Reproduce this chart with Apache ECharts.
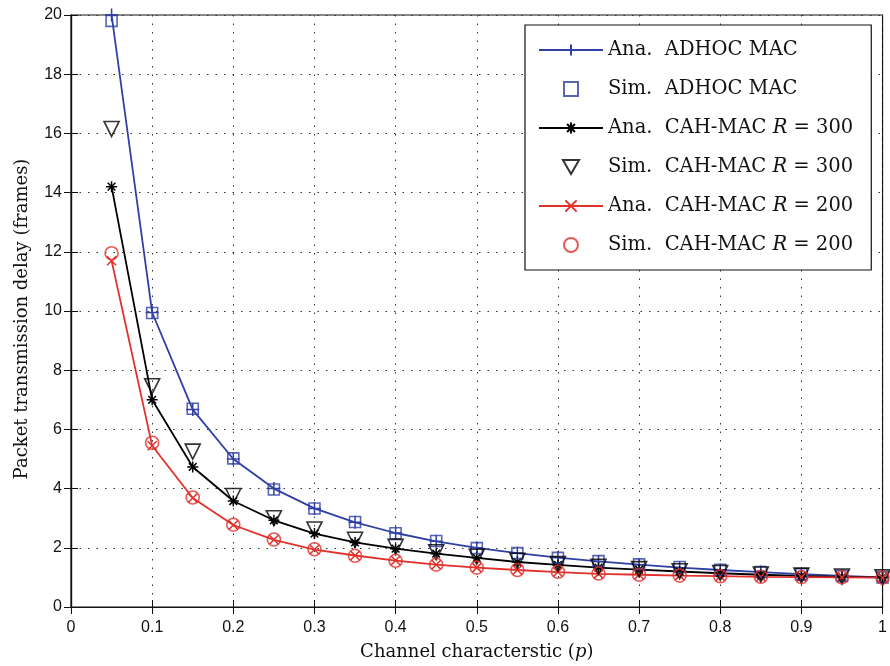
<!DOCTYPE html>
<html>
<head>
<meta charset="utf-8">
<script src="https://cdn.jsdelivr.net/npm/echarts@6/dist/echarts.min.js"></script>
<style>
  html, body { margin: 0; padding: 0; background: #fff; }
  #chart { width: 890px; height: 666px; }
</style>
</head>
<body>
<div id="chart"></div>
<script>
// Channel characteristic p
const pValues = [0.05, 0.1, 0.15, 0.2, 0.25, 0.3, 0.35, 0.4, 0.45, 0.5,
                 0.55, 0.6, 0.65, 0.7, 0.75, 0.8, 0.85, 0.9, 0.95, 1.0];

// Packet transmission delay (frames)
const anaAdhoc = [20.0, 9.95, 6.67, 5.0, 4.0, 3.33, 2.86, 2.5, 2.22, 2.0,
                  1.82, 1.67, 1.54, 1.43, 1.33, 1.25, 1.18, 1.11, 1.05, 1.0];
const simAdhoc = [19.8, 9.93, 6.7, 5.02, 3.97, 3.33, 2.87, 2.49, 2.23, 1.99,
                  1.82, 1.66, 1.55, 1.44, 1.35, 1.26, 1.18, 1.11, 1.05, 1.0];
const anaR300 = [14.2, 7.0, 4.73, 3.58, 2.93, 2.48, 2.18, 1.97, 1.8, 1.66,
                 1.52, 1.42, 1.33, 1.26, 1.2, 1.14, 1.09, 1.05, 1.02, 1.0];
const simR300 = [16.15, 7.46, 5.25, 3.75, 3.0, 2.62, 2.27, 2.03, 1.85, 1.7,
                 1.56, 1.45, 1.36, 1.28, 1.21, 1.15, 1.1, 1.06, 1.03, 1.0];
const anaR200 = [11.7, 5.45, 3.68, 2.77, 2.27, 1.94, 1.74, 1.57, 1.43, 1.33,
                 1.25, 1.18, 1.12, 1.09, 1.06, 1.04, 1.02, 1.01, 1.0, 0.99];
const simR200 = [11.95, 5.55, 3.7, 2.78, 2.28, 1.95, 1.73, 1.56, 1.43, 1.33,
                 1.25, 1.19, 1.13, 1.09, 1.06, 1.04, 1.02, 1.01, 1.0, 0.99];

const seriesNames = [
  'Ana.  ADHOC MAC',
  'Sim.  ADHOC MAC',
  'Ana.  CAH-MAC R = 300',
  'Sim.  CAH-MAC R = 300',
  'Ana.  CAH-MAC R = 200',
  'Sim.  CAH-MAC R = 200'
];

const xTicks = [0, 0.1, 0.2, 0.3, 0.4, 0.5, 0.6, 0.7, 0.8, 0.9, 1];
const yTicks = [0, 2, 4, 6, 8, 10, 12, 14, 16, 18, 20];

const BLUE = '#2f3fa3';
const RED = '#e2302a';
const BLACK = '#000000';

const SERIF = '"DejaVu Serif", "Liberation Serif", serif';
const SANS = '"Liberation Sans", Arial, sans-serif';

const PLUS = 'path://M5,0L5,10M0,5L10,5';
const STAR = 'path://M5,0L5,10M0,5L10,5M1.5,1.5L8.5,8.5M8.5,1.5L1.5,8.5';
const CROSS = 'path://M0,0L10,10M10,0L0,10';
const SQUARE = 'path://M0,0L10,0L10,10L0,10Z';
const TRI_DOWN = 'path://M0,0L10,0L5,8.66Z';

const pairs = ys => pValues.map((p, i) => [p, ys[i]]);

function anaSeries(name, ys, color, symbol, size) {
  return {
    name, type: 'line', data: pairs(ys), clip: false,
    symbol, symbolSize: size, showAllSymbol: true,
    lineStyle: { color, width: 1.8 },
    itemStyle: { color, borderColor: color, borderWidth: 1.5 },
    emphasis: { disabled: true }, z: 3
  };
}
function simSeries(name, ys, color, symbol, size) {
  return {
    name, type: 'scatter', data: pairs(ys), clip: false,
    symbol, symbolSize: size,
    itemStyle: { color: 'rgba(0,0,0,0)', borderColor: color, borderWidth: 1.6 },
    emphasis: { disabled: true }, z: 4
  };
}

const chart = echarts.init(document.getElementById('chart'), null, { renderer: 'canvas' });

const tickLabelStyle = { fontFamily: SANS, fontSize: 16, color: '#111' };
const titleFont = { fontFamily: SERIF, fontSize: 18, color: '#111' };
const legendFont = { fontFamily: SERIF, fontSize: 19.5, color: '#111' };

chart.setOption({
  animation: false,
  backgroundColor: '#fff',
  grid: { left: 71, right: 5, top: 15, bottom: 57, show: true,
          borderColor: '#111', borderWidth: 1.2, backgroundColor: 'transparent' },
  xAxis: [{
    type: 'value', min: 0, max: 1, interval: 0.1, position: 'bottom',
    name: 'Channel characterstic ({i|p})', nameLocation: 'middle', nameGap: 36,
    nameTextStyle: { ...titleFont, rich: { i: { ...titleFont, fontStyle: 'italic' } } },
    axisLine: { show: true, onZero: false, lineStyle: { color: '#111', width: 1.2 } },
    axisTick: { show: true, inside: true, length: 7, lineStyle: { color: '#111' } },
    axisLabel: { ...tickLabelStyle, margin: 13,
                 formatter: v => { const t = xTicks.find(x => Math.abs(x - v) < 1e-9); return t === undefined ? '' : String(t); } },
    splitLine: { show: true, lineStyle: { color: '#333', type: [1.5, 7], width: 1 } }
  }, {
    type: 'value', min: 0, max: 1, interval: 0.1, position: 'top',
    axisLine: { show: true, lineStyle: { color: '#111', width: 1.2 } },
    axisTick: { show: true, inside: true, length: 7, lineStyle: { color: '#111' } },
    axisLabel: { show: false }, splitLine: { show: false }
  }],
  yAxis: [{
    type: 'value', min: 0, max: 20, interval: 2, position: 'left',
    name: 'Packet transmission delay (frames)', nameLocation: 'middle', nameGap: 40,
    nameTextStyle: { ...titleFont, padding: [0, 16, 0, 0] },
    axisLine: { show: true, onZero: false, lineStyle: { color: '#111', width: 1.2 } },
    axisTick: { show: true, inside: true, length: 7, lineStyle: { color: '#111' } },
    axisLabel: { ...tickLabelStyle, margin: 9,
                 formatter: v => yTicks.includes(v) ? String(v) : '' },
    splitLine: { show: true, lineStyle: { color: '#333', type: [1.5, 7], width: 1 } }
  }, {
    type: 'value', min: 0, max: 20, interval: 2, position: 'right',
    axisLine: { show: true, lineStyle: { color: '#111', width: 1.2 } },
    axisTick: { show: true, inside: true, length: 7, lineStyle: { color: '#111' } },
    axisLabel: { show: false }, splitLine: { show: false }
  }],
  legend: {
    orient: 'vertical', left: 525, top: 25,
    padding: [15, 18, 15, 13], itemGap: 19,
    itemWidth: 64, itemHeight: 14,
    backgroundColor: '#fff', borderColor: '#111', borderWidth: 1.2,
    selectedMode: false,
    data: seriesNames,
    formatter: name => name.replace(' R = ', ' {i|R} = '),
    textStyle: { ...legendFont, lineHeight: 20,
                 rich: { i: { ...legendFont, fontStyle: 'italic' } } }
  },
  series: [
    anaSeries(seriesNames[0], anaAdhoc, BLUE, PLUS, 13),
    simSeries(seriesNames[1], simAdhoc, BLUE, SQUARE, 11),
    anaSeries(seriesNames[2], anaR300, BLACK, STAR, 11),
    simSeries(seriesNames[3], simR300, BLACK, TRI_DOWN, 15),
    anaSeries(seriesNames[4], anaR200, RED, CROSS, 9),
    simSeries(seriesNames[5], simR200, RED, 'circle', 13)
  ]
});
</script>
</body>
</html>
